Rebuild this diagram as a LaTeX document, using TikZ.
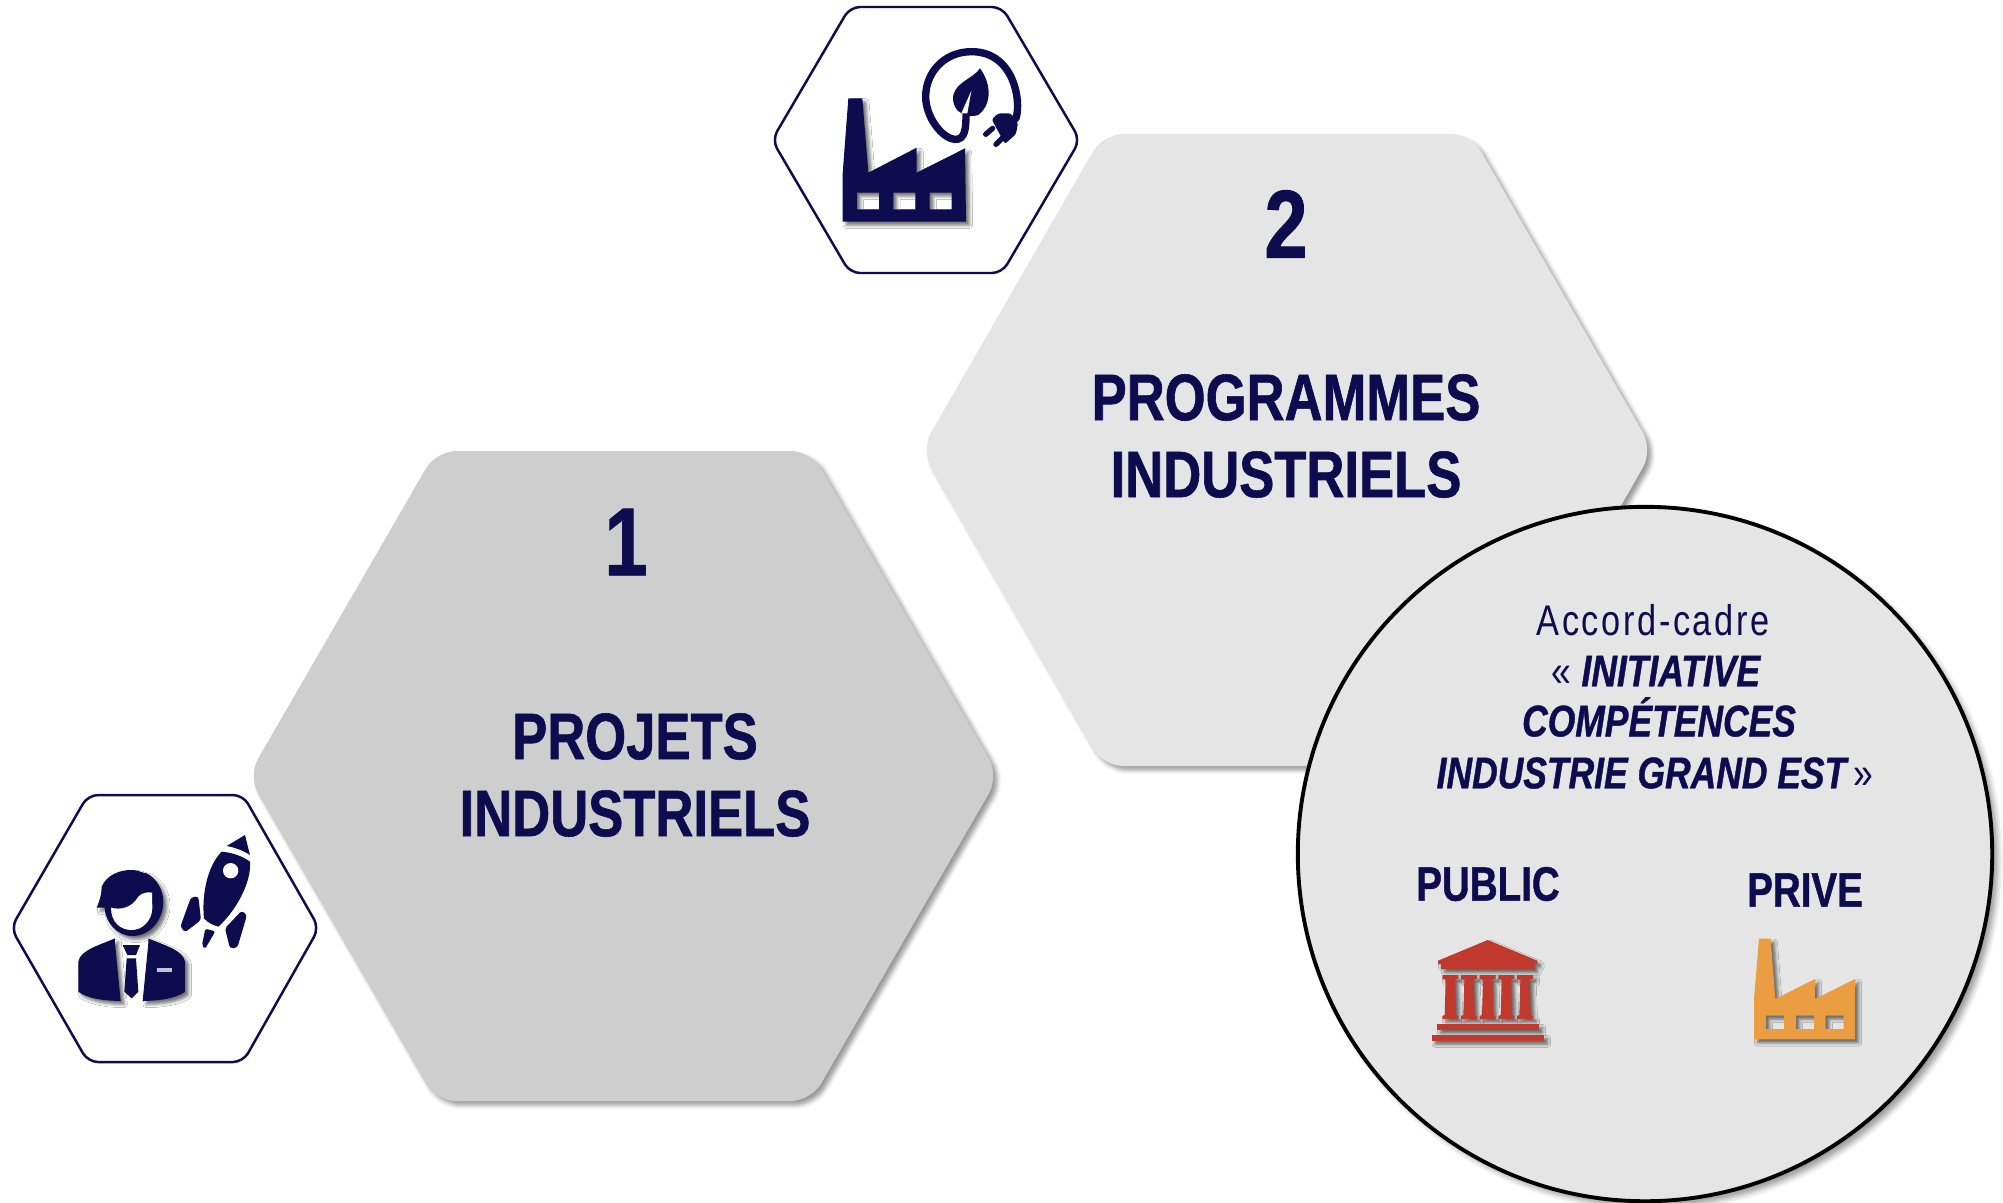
\documentclass[tikz,border=0pt]{standalone}
\usepackage{fontspec}
\setmainfont{Liberation Sans}[FakeStretch=0.8, BoldFeatures={FakeStretch=0.8, FakeBold=0.9}, BoldItalicFeatures={FakeStretch=0.8, FakeBold=0.9}]
\usetikzlibrary{shadows.blur}
\definecolor{navy}{HTML}{0D0C4E}
\definecolor{hexdark}{HTML}{CFCECF}
\definecolor{hexlight}{HTML}{E5E5E5}
\definecolor{brick}{HTML}{C0392C}
\definecolor{amber}{HTML}{EB9E41}
\tikzset{
    softshadow/.style = {blur shadow = {shadow xshift=#1, shadow yshift=-#1, shadow blur radius=#1, shadow opacity=40}},
    softshadow/.default = 1.2pt,
    bighex/.style = {rounded corners=0.2cm, softshadow},
    smallhex/.style = {draw=navy, line width=0.7pt, fill=white, rounded corners=0.1cm},
    bigtext/.style = {text=navy, font=\fontsize{18.7}{21.9}\selectfont\bfseries, align=center, inner sep=0},
    numtext/.style = {text=navy, font=\fontsize{27.5}{30}\selectfont\bfseries, inner sep=0},
    midtext/.style = {text=navy, font=\fontsize{13.7}{15}\selectfont\bfseries, inner sep=0},
    thintext/.style = {text=navy, font=\fontsize{12.2}{14}\selectfont\addfontfeature{LetterSpace=6}, inner sep=0},
    slanttext/.style = {text=navy, font=\fontsize{12.6}{14}\selectfont\bfseries\itshape, inner sep=0},
    icon/.style = {fill=navy},
    iconshadow/.style = {blur shadow = {shadow xshift=1pt, shadow yshift=-1pt, shadow blur radius=0.9pt, shadow opacity=55}},
}
\begin{document}
\begin{tikzpicture}[x=0.01cm, y=-0.01cm]
    \useasboundingbox (0,0) rectangle (2003,1202);

    % big hexagons
    \fill [hexdark, bighex] (248,776) -- (436,451) -- (811,451) -- (999,776) -- (811,1101) -- (436,1101) -- cycle;
    \fill [hexlight, bighex] (921,450) -- (1103,134) -- (1471,134) -- (1653,450) -- (1471,766) -- (1103,766) -- cycle;

    % small hexagons
    \draw [smallhex] (11,928) -- (88,795) -- (243,795) -- (319,928) -- (243,1062) -- (88,1062) -- cycle;
    \draw [smallhex] (772,140) -- (850,7) -- (1002,7) -- (1080,140) -- (1002,273) -- (850,273) -- cycle;

    % circle
    \node (cadre) [circle, draw=black, line width=1.1pt, fill=hexlight, minimum size=6.94cm, inner sep=0, softshadow=1.6pt] at (1645,854) {};

    % texts
    \node (num1) [numtext] at (626,542) {1};
    \node (projets) [bigtext] at (635,775) {PROJETS\\INDUSTRIELS};
    \node (num2) [numtext] at (1286,224) {2};
    \node (programmes) [bigtext] at (1286,436) {PROGRAMMES\\INDUSTRIELS};
    \node (accord) [thintext] at (1653,620) {Accord-cadre};
    \node (initiative) [slanttext] at (1656,671) {{\mdseries\upshape «} INITIATIVE};
    \node (competences) [slanttext] at (1659,717) {COMPÉTENCES};
    \node (industrie) [slanttext] at (1655,773) {INDUSTRIE GRAND EST{\mdseries\upshape\,»}};
    \node (public) [midtext] at (1488,884) {PUBLIC};
    \node (prive) [midtext] at (1805,890) {PRIVE};

    % person and rocket
    \begin{scope}[shift={(0,780)}, scale=1/3]
        \fill [icon, iconshadow] (235,545) .. controls (240,510) and (300,495) .. (345,475) -- (345,490) -- (362,663) .. controls (310,662) and (260,655) .. (235,635) -- cycle;
        \fill [icon, iconshadow] (555,545) .. controls (550,510) and (490,495) .. (445,475) -- (445,490) -- (428,663) .. controls (480,662) and (530,655) .. (555,635) -- cycle;
        \fill [white!75!navy] (470,565) rectangle (515,575);
        \fill [icon] (368,495) -- (420,495) -- (408,525) -- (382,525) -- cycle;
        \fill [icon] (380,535) -- (408,535) -- (415,635) -- (395,655) -- (373,635) -- cycle;
        \fill [icon, iconshadow] (290,383) .. controls (300,360) and (305,340) .. (305,320) .. controls (320,285) and (360,268) .. (400,270) .. controls (420,272) and (430,280) .. (440,280) .. controls (470,295) and (490,330) .. (490,365) .. controls (490,420) and (450,468) .. (397,468) .. controls (350,468) and (315,425) .. (314,383) -- cycle;
        \fill [white] (333,383) .. controls (360,390) and (395,385) .. (415,350) .. controls (425,338) and (445,335) .. (456,338) -- (457,385) .. controls (455,425) and (425,450) .. (395,450) .. controls (360,450) and (333,425) .. (333,383) -- cycle;
        \fill [icon] (680,198) -- (735,165) -- (750,225) .. controls (730,212) and (705,202) .. (680,198) -- cycle;
        \fill [icon] (665,215) .. controls (700,218) and (730,230) .. (750,245) .. controls (755,310) and (705,395) .. (655,440) .. controls (640,435) and (625,430) .. (612,415) .. controls (605,350) and (620,260) .. (665,215) -- cycle;
        \fill [white] (692,272) circle [radius=23];
        \fill [icon, rounded corners=0.8pt] (573,352) -- (595,349) -- (603,420) -- (555,457) -- (541,440) -- cycle;
        \fill [icon, rounded corners=0.5pt] (616,446) -- (646,454) -- (615,507) -- (606,495) -- cycle;
        \fill [icon, rounded corners=0.8pt] (725,392) -- (741,405) -- (712,503) -- (690,505) -- (675,445) -- cycle;
    \end{scope}

    % factory and plug
    \begin{scope}[shift={(760,0)}, scale=1/3]
        \fill [icon, iconshadow, even odd rule] (265,295) -- (307,295) -- (325,518) -- (470,443) -- (470,518) -- (615,445) -- (618,665) -- (248,665) -- (248,520) -- cycle
            (291,578) rectangle (357,628) (400,578) rectangle (466,628) (509,578) rectangle (575,628);
        \draw [navy, line width=2.1pt, line cap=round] (768,355) .. controls (785,300) and (760,155) .. (635,155) .. controls (550,155) and (497,220) .. (497,290) .. controls (497,350) and (545,415) .. (585,418) .. controls (615,420) and (618,385) .. (618,345);
        \fill [icon] (660,205) .. controls (640,235) and (590,245) .. (580,285) .. controls (575,310) and (590,335) .. (605,340) .. controls (615,350) and (640,350) .. (655,345) .. controls (690,320) and (700,260) .. (660,205) -- cycle;
        \fill [white] (634,272) -- (622,340) -- (604,340) -- cycle;
        \fill [icon, rounded corners=0.7pt] (695,358) -- (715,340) -- (752,340) -- (774,368) -- (768,402) -- (735,432) -- cycle;
        \draw [navy, line width=1.5pt, line cap=round] (677,403) -- (698,385) (708,433) -- (728,413);
    \end{scope}

    % public and private icons
    \begin{scope}[shift={(1380,840)}, scale=1/3]
        \fill [brick, iconshadow] (323,300) -- (472,362) -- (472,372) -- (463,372) -- (463,388) -- (183,388) -- (183,372) -- (174,372) -- (174,362) -- cycle;
        \foreach \x in {211,267,323,379,435} {
            \fill [brick, iconshadow] (\x-24,405) -- (\x+24,405) -- (\x+24,416) -- (\x+14,420) -- (\x+17,525) -- (\x+24,528) -- (\x+24,537) -- (\x-24,537) -- (\x-24,528) -- (\x-17,525) -- (\x-14,420) -- (\x-24,416) -- cycle;
        }
        \fill [brick, iconshadow] (171,552) rectangle (477,570);
        \fill [brick, iconshadow] (155,585) rectangle (492,602);
        \fill [amber, iconshadow, even odd rule] (1137,296) -- (1172,296) -- (1186,477) -- (1305,417) -- (1305,477) -- (1425,417) -- (1425,598) -- (1122,598) -- (1122,478) -- cycle
            (1158,527) rectangle (1212,567) (1248,527) rectangle (1302,567) (1337,527) rectangle (1391,567);
    \end{scope}
\end{tikzpicture}
\end{document}
